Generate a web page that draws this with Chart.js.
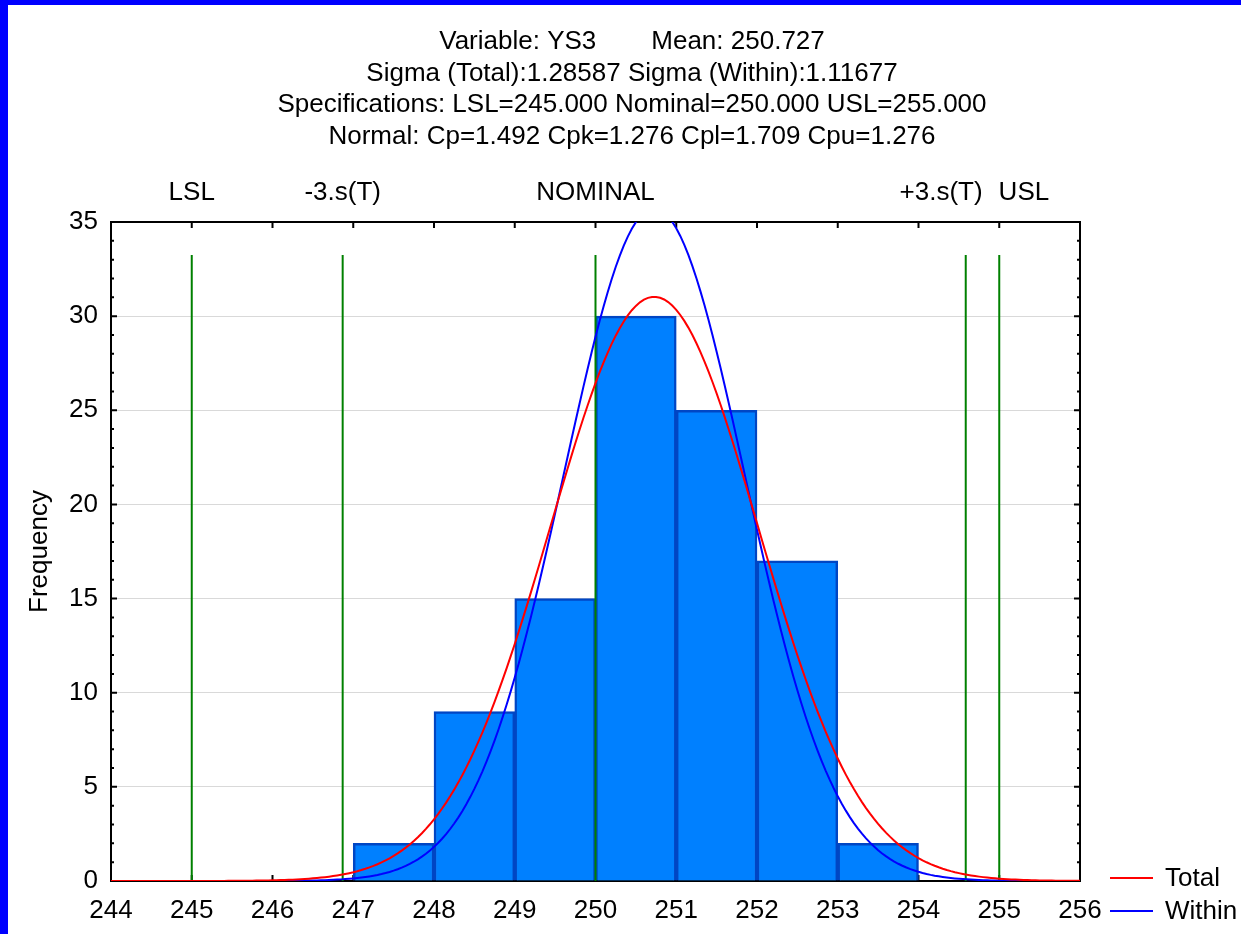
<!DOCTYPE html>
<html>
<head>
<meta charset="utf-8">
<title>Process capability YS3</title>
<script src="https://cdn.jsdelivr.net/npm/chart.js@4.4.1/dist/chart.umd.min.js"></script>
<style>
  html, body { margin: 0; padding: 0; background: #fff; }
</style>
</head>
<body>
<canvas id="capChart" width="1241" height="934"></canvas>
<script>
// histogram bins (lower edge, width 1) and counts
const binStart = [247, 248, 249, 250, 251, 252, 253];
const binCount = [2, 9, 15, 30, 25, 17, 2];

// spec / sigma markers along the top
const specNames = ['LSL', '-3.s(T)', 'NOMINAL', '+3.s(T)', 'USL'];
const specValues = [245.0, 246.869, 250.0, 254.585, 255.0];

// fitted normal parameters
const mean = 250.727;
const sigmaTotal = 1.28587;
const sigmaWithin = 1.11677;

const titleLines = [
  ['Variable: YS3', 'Mean: 250.727'],
  ['Sigma (Total):1.28587 Sigma (Within):1.11677'],
  ['Specifications: LSL=245.000 Nominal=250.000 USL=255.000'],
  ['Normal: Cp=1.492 Cpk=1.276 Cpl=1.709 Cpu=1.276']
];

const xMin = 244, xMax = 256;
const yMin = 0, yMax = 35;

const FONT = 'Arial, "Liberation Sans", sans-serif';
const fontSize = 26;

// normal curve scaled to counts (n * bin width)
const n = binCount.reduce((a, b) => a + b, 0);
function normalCurve(mu, sd) {
  const pts = [];
  for (let i = 0; i <= 240; i++) {
    const x = xMin + i * 0.05;
    const z = (x - mu) / sd;
    pts.push({ x: x, y: n * Math.exp(-0.5 * z * z) / (sd * Math.sqrt(2 * Math.PI)) });
  }
  return pts;
}

const bars = binStart.map((s, i) => ({ x: s + 0.5, y: binCount[i] }));

const specSets = specValues.map(v => ({
  type: 'line',
  label: '',
  data: [{ x: v, y: 0 }, { x: v, y: yMax * 0.95 }],
  borderColor: '#008000',
  borderWidth: 2,
  pointRadius: 0,
  order: 2
}));

const decor = {
  id: 'decor',
  beforeDatasetsDraw(chart) {
    const { ctx, chartArea: a, scales: { x, y } } = chart;
    ctx.save();
    ctx.strokeStyle = '#000';
    ctx.lineWidth = 2;
    ctx.strokeRect(a.left, a.top, a.right - a.left, a.bottom - a.top);
    ctx.beginPath();
    for (let v = yMin; v <= yMax; v++) {
      const py = y.getPixelForValue(v);
      const len = v % 5 === 0 ? 6 : 3;
      ctx.moveTo(a.left, py); ctx.lineTo(a.left + len, py);
      ctx.moveTo(a.right, py); ctx.lineTo(a.right - len, py);
    }
    for (let v = xMin; v <= xMax; v++) {
      const px = x.getPixelForValue(v);
      ctx.moveTo(px, a.top); ctx.lineTo(px, a.top + 6);
      ctx.moveTo(px, a.bottom); ctx.lineTo(px, a.bottom - 6);
    }
    ctx.stroke();
    ctx.restore();
  },
  afterDraw(chart) {
    const { ctx, chartArea: a, scales: { x } } = chart;
    const cx = 632;
    ctx.save();
    ctx.fillStyle = '#000';
    ctx.font = fontSize + 'px ' + FONT;
    ctx.textBaseline = 'middle';

    // header lines
    titleLines.forEach((parts, i) => {
      const ty = 42 + i * 31.5;
      if (parts.length === 2) {
        const gap = 55;
        const w1 = ctx.measureText(parts[0]).width;
        const w2 = ctx.measureText(parts[1]).width;
        const x0 = cx - (w1 + gap + w2) / 2;
        ctx.textAlign = 'left';
        ctx.fillText(parts[0], x0, ty);
        ctx.fillText(parts[1], x0 + w1 + gap, ty);
      } else {
        ctx.textAlign = 'center';
        ctx.fillText(parts[0], cx, ty);
      }
    });

    // marker names, pushed apart where they collide
    const items = specNames.map((t, i) => {
      const w = ctx.measureText(t).width;
      return { t, w, c: x.getPixelForValue(specValues[i]) };
    });
    for (let i = 1; i < items.length; i++) {
      const p = items[i - 1], q = items[i];
      const overlap = (p.c + p.w / 2 + 16) - (q.c - q.w / 2);
      if (overlap > 0) { p.c -= overlap / 2; q.c += overlap / 2; }
    }
    ctx.textAlign = 'center';
    items.forEach(it => ctx.fillText(it.t, it.c, 193));

    // legend for the fitted curves
    const curves = chart.data.datasets.filter(d => d.legendEntry);
    curves.forEach((d, i) => {
      const ly = 878 + i * 33;
      ctx.strokeStyle = d.borderColor;
      ctx.lineWidth = 2;
      ctx.beginPath();
      ctx.moveTo(1110, ly); ctx.lineTo(1153, ly);
      ctx.stroke();
      ctx.textAlign = 'left';
      ctx.fillText(d.label, 1165, ly + 1);
    });

    // window frame
    ctx.fillStyle = '#0000ff';
    ctx.fillRect(0, 0, chart.width, 5);
    ctx.fillRect(0, 0, 8, chart.height);
    ctx.restore();
  }
};

new Chart(document.getElementById('capChart'), {
  type: 'bar',
  data: {
    datasets: [
      {
        type: 'line',
        label: 'Total',
        legendEntry: true,
        data: normalCurve(mean, sigmaTotal),
        borderColor: '#ff0000',
        borderWidth: 2,
        pointRadius: 0,
        order: 1
      },
      {
        type: 'line',
        label: 'Within',
        legendEntry: true,
        data: normalCurve(mean, sigmaWithin),
        borderColor: '#0000ff',
        borderWidth: 2,
        pointRadius: 0,
        order: 1
      },
      ...specSets,
      {
        type: 'bar',
        label: 'Frequency',
        data: bars,
        backgroundColor: '#0080ff',
        borderColor: '#0046c4',
        borderWidth: 2.5,
        borderSkipped: 'bottom',
        barPercentage: 1,
        categoryPercentage: 1,
        grouped: false,
        order: 3
      }
    ]
  },
  options: {
    responsive: false,
    animation: false,
    devicePixelRatio: 1,
    layout: { padding: { left: 0, top: 222, right: 161, bottom: 0 } },
    plugins: {
      legend: { display: false },
      title: { display: false },
      tooltip: { enabled: false }
    },
    scales: {
      x: {
        type: 'linear',
        min: xMin,
        max: xMax,
        offset: false,
        grid: { display: false, drawTicks: false, offset: false },
        border: { display: false },
        ticks: {
          stepSize: 1,
          color: '#000',
          padding: 14,
          maxRotation: 0,
          autoSkip: false,
          font: { family: FONT, size: fontSize }
        },
        afterFit(s) { s.height = 53; }
      },
      y: {
        min: yMin,
        max: yMax,
        grid: { color: '#d9d9d9', lineWidth: 1, drawTicks: false },
        border: { display: false },
        ticks: {
          stepSize: 5,
          color: '#000',
          padding: 13,
          font: { family: FONT, size: fontSize }
        },
        title: {
          display: true,
          text: 'Frequency',
          color: '#000',
          padding: { top: 24, bottom: 0 },
          font: { family: FONT, size: fontSize }
        },
        afterFit(s) { s.width = 111; }
      }
    }
  },
  plugins: [decor]
});
</script>
</body>
</html>
